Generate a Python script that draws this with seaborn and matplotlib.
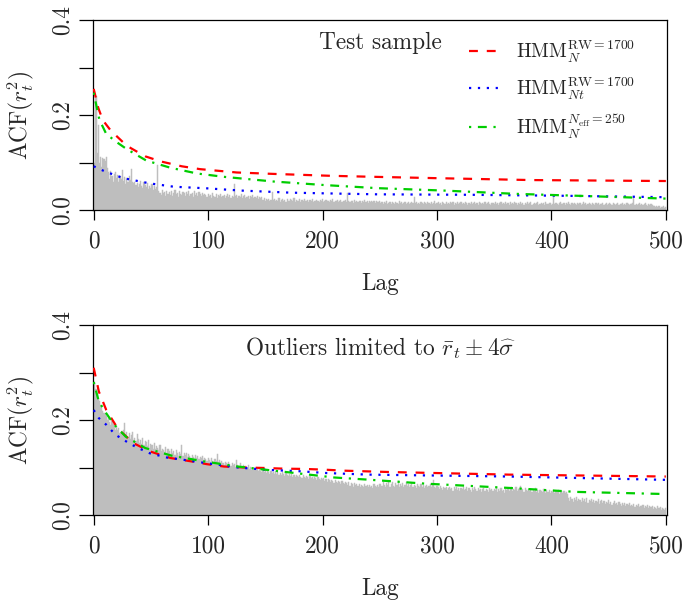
import numpy as np
import matplotlib
matplotlib.use("Agg")
import matplotlib.pyplot as plt
import seaborn as sns

sns.set_style("white")
plt.rcParams["font.family"] = ["cmr10", "DejaVu Serif"]
plt.rcParams["mathtext.fontset"] = "cm"
plt.rcParams["axes.unicode_minus"] = False
plt.rcParams["axes.formatter.use_mathtext"] = True

# ---------------- data ----------------
xtick_values = [0, 100, 200, 300, 400, 500]
xtick_labels = ["0", "100", "200", "300", "400", "500"]
ytick_values = [0.0, 0.1, 0.2, 0.3, 0.4]
ytick_labels = ["0.0", "", "0.2", "", "0.4"]

series_labels = [r"HMM$_N^{\mathrm{RW}=1700}$",
                 r"HMM$_{Nt}^{\mathrm{RW}=1700}$",
                 r"HMM$_N^{N_{\mathrm{eff}}=250}$"]
panel_titles = ["Test sample",
                r"Outliers limited to $\bar{r}_t \pm 4\widehat{\sigma}$"]

# sample ACF of squared returns, lags 1..500 (top panel: test sample)
acf_test = [
    0.100, 0.240, 0.120, 0.180, 0.100, 0.112, 0.090, 0.110, 0.108, 0.104, 0.112, 0.088,
    0.080, 0.066, 0.083, 0.071, 0.060, 0.076, 0.081, 0.068, 0.073, 0.058, 0.071, 0.066,
    0.084, 0.062, 0.070, 0.055, 0.068, 0.060, 0.072, 0.064, 0.086, 0.058, 0.056,
    0.060, 0.052, 0.057, 0.048, 0.055, 0.061, 0.050, 0.046, 0.058, 0.053, 0.049, 0.056,
    0.044, 0.051, 0.047, 0.054, 0.042, 0.050, 0.045, 0.048, 0.095,
    0.040, 0.036, 0.031, 0.042, 0.035, 0.038, 0.029, 0.041, 0.034, 0.037, 0.032, 0.039,
    0.030, 0.036, 0.042, 0.033, 0.035, 0.028, 0.040, 0.034, 0.031, 0.038, 0.035, 0.029,
    0.037, 0.033, 0.041, 0.030, 0.034, 0.036, 0.028, 0.039, 0.032, 0.035, 0.030, 0.037,
    0.033, 0.029, 0.036, 0.031, 0.034,
    0.031, 0.027, 0.034, 0.029, 0.032, 0.026, 0.035, 0.030, 0.028, 0.033, 0.025, 0.031,
    0.029, 0.034, 0.027, 0.030, 0.032, 0.026, 0.029, 0.033, 0.028, 0.031, 0.025, 0.030,
    0.028, 0.054,
    0.029, 0.032, 0.026, 0.030, 0.027, 0.033, 0.025, 0.029, 0.031, 0.026, 0.028, 0.030,
    0.024, 0.029, 0.027, 0.031, 0.025, 0.028, 0.026, 0.030, 0.023, 0.027, 0.025, 0.028,
    0.022, 0.025, 0.019, 0.023, 0.021, 0.024, 0.018, 0.022, 0.038,
    0.021, 0.024, 0.018, 0.022, 0.020, 0.025, 0.017, 0.021, 0.023, 0.019, 0.022, 0.016,
    0.024, 0.020, 0.018, 0.023, 0.021, 0.019, 0.025, 0.017, 0.022, 0.020, 0.018, 0.023,
    0.016, 0.021, 0.019, 0.024, 0.018, 0.020, 0.022, 0.017, 0.021, 0.019, 0.023, 0.016,
    0.020, 0.018, 0.022, 0.019, 0.017, 0.021, 0.020, 0.024, 0.016, 0.019, 0.022, 0.018,
    0.020, 0.017, 0.021, 0.019, 0.023, 0.016, 0.020, 0.018, 0.021, 0.017, 0.019, 0.022,
    0.016, 0.020, 0.018, 0.021, 0.017, 0.035,
    0.019, 0.016, 0.020, 0.018, 0.015, 0.021, 0.017, 0.019, 0.016, 0.020, 0.018, 0.015,
    0.019, 0.017, 0.021, 0.016, 0.018, 0.015, 0.020, 0.017, 0.019, 0.016, 0.018, 0.014,
    0.019, 0.017, 0.016, 0.018,
    0.015, 0.017, 0.013, 0.016, 0.014, 0.018, 0.012, 0.015, 0.016, 0.013,
    0.017, 0.014, 0.012, 0.016, 0.015, 0.013, 0.018, 0.014, 0.016, 0.012,
    0.015, 0.017, 0.013, 0.014, 0.016, 0.012, 0.015, 0.017, 0.014, 0.028,
    0.014, 0.016, 0.012, 0.015, 0.013, 0.017, 0.014, 0.012, 0.016, 0.015,
    0.013, 0.017, 0.014, 0.012, 0.016, 0.013, 0.015, 0.018, 0.012, 0.014,
    0.016, 0.013, 0.015, 0.011, 0.017, 0.014, 0.012, 0.016, 0.013, 0.015,
    0.012, 0.016, 0.014, 0.017, 0.011, 0.015, 0.013, 0.016, 0.012, 0.014,
    0.017, 0.013, 0.015, 0.012, 0.016, 0.014, 0.011, 0.015, 0.013, 0.016,
    0.012, 0.014, 0.017, 0.013, 0.015, 0.011, 0.016, 0.014, 0.012, 0.015,
    0.013, 0.016, 0.012, 0.014, 0.017, 0.013, 0.011, 0.015, 0.014, 0.012,
    0.016, 0.013, 0.015, 0.011, 0.014, 0.017, 0.012, 0.015, 0.013, 0.016,
    0.012, 0.014, 0.011, 0.016, 0.013, 0.015, 0.012, 0.017, 0.014, 0.011,
    0.015, 0.013, 0.016, 0.012, 0.014, 0.011, 0.015, 0.013, 0.017, 0.012,
    0.014, 0.016, 0.011, 0.013, 0.015, 0.012, 0.014, 0.016, 0.011, 0.013,
    0.015, 0.012, 0.014, 0.011, 0.016, 0.013, 0.012, 0.015, 0.014, 0.011,
    0.013, 0.028, 0.012, 0.015, 0.013, 0.011, 0.014, 0.016, 0.012, 0.013,
    0.015, 0.011, 0.014, 0.012, 0.016, 0.013, 0.010, 0.014, 0.012, 0.015,
    0.013, 0.011, 0.015, 0.012, 0.014, 0.010, 0.013, 0.016, 0.012, 0.014,
    0.011, 0.013, 0.015, 0.012, 0.010, 0.014, 0.013, 0.011, 0.015, 0.012,
    0.014, 0.010, 0.013, 0.012, 0.015, 0.011, 0.013, 0.014, 0.010, 0.012,
    0.015, 0.012, 0.011, 0.014, 0.013, 0.010, 0.012, 0.015, 0.011, 0.013,
    0.012, 0.014, 0.010, 0.013, 0.011, 0.015, 0.012, 0.010, 0.013, 0.012,
    0.014, 0.028, 0.011, 0.013, 0.010, 0.012, 0.014, 0.011, 0.013, 0.010,
    0.012, 0.014, 0.011, 0.009, 0.013, 0.010, 0.012, 0.011, 0.009, 0.008,
    0.007, 0.009, 0.006, 0.008, 0.005, 0.007, 0.006, 0.008, 0.005, 0.007,
]

# bottom panel: outliers limited
acf_limited = [
    0.280, 0.265, 0.255, 0.245, 0.240, 0.232, 0.228, 0.220, 0.215, 0.212,
    0.208, 0.200, 0.204, 0.195, 0.190, 0.198, 0.192, 0.185, 0.180, 0.188,
    0.178, 0.183, 0.172, 0.176, 0.168, 0.180, 0.194, 0.170, 0.174, 0.165,
    0.172, 0.160, 0.168, 0.175, 0.158, 0.163, 0.155, 0.170, 0.160, 0.152,
    0.158, 0.150, 0.162, 0.148, 0.155, 0.153, 0.145, 0.158, 0.142, 0.150,
    0.147, 0.140, 0.152, 0.138, 0.145, 0.142, 0.136, 0.148, 0.134, 0.140,
    0.137, 0.132, 0.143, 0.130, 0.138, 0.135, 0.128, 0.140, 0.131, 0.134,
    0.127, 0.136, 0.130, 0.125, 0.133, 0.129, 0.148, 0.124, 0.131, 0.126,
    0.130, 0.122, 0.128, 0.125, 0.120, 0.127, 0.123, 0.118, 0.126, 0.121,
    0.124, 0.117, 0.122, 0.119, 0.125, 0.115, 0.121, 0.118, 0.113, 0.120,
    0.116, 0.112, 0.119, 0.114, 0.110, 0.117, 0.113, 0.128, 0.111, 0.115,
    0.108, 0.114, 0.110, 0.106, 0.112, 0.109, 0.104, 0.111, 0.107, 0.103,
    0.110, 0.105, 0.108, 0.102, 0.116, 0.106, 0.101, 0.109, 0.104, 0.100,
    0.106, 0.099, 0.103, 0.098, 0.105, 0.097, 0.102, 0.095, 0.100, 0.096,
    0.099, 0.094, 0.097, 0.092, 0.098, 0.093, 0.090, 0.096, 0.091, 0.094,
    0.089, 0.095, 0.090, 0.087, 0.093, 0.088, 0.091, 0.086, 0.092, 0.087,
    0.090, 0.085, 0.089, 0.084, 0.091, 0.086, 0.083, 0.088, 0.085, 0.082,
    0.087, 0.083, 0.086, 0.081, 0.085, 0.080, 0.084, 0.082, 0.079, 0.085,
    0.081, 0.078, 0.084, 0.080, 0.077, 0.083, 0.079, 0.076, 0.082, 0.078,
    0.080, 0.075, 0.079, 0.077, 0.074, 0.081, 0.076, 0.073, 0.078, 0.075,
    0.077, 0.072, 0.076, 0.070, 0.075, 0.073, 0.069, 0.074, 0.071, 0.068,
    0.073, 0.070, 0.067, 0.072, 0.069, 0.066, 0.071, 0.068, 0.065, 0.070,
    0.067, 0.064, 0.069, 0.062, 0.068, 0.065, 0.060, 0.067, 0.063, 0.066,
    0.061, 0.065, 0.059, 0.064, 0.062, 0.058, 0.066, 0.061, 0.063, 0.059,
    0.064, 0.060, 0.062, 0.057, 0.065, 0.061, 0.058, 0.063, 0.060, 0.066,
    0.066, 0.061, 0.070, 0.063, 0.059, 0.068, 0.064, 0.072, 0.060, 0.065,
    0.069, 0.062, 0.058, 0.067, 0.063, 0.071, 0.060, 0.065, 0.062, 0.068,
    0.059, 0.064, 0.070, 0.061, 0.066, 0.058, 0.063, 0.067, 0.060, 0.064,
    0.062, 0.057, 0.066, 0.061, 0.059, 0.065, 0.060, 0.063, 0.056, 0.062,
    0.064, 0.059, 0.061, 0.066, 0.058, 0.063, 0.074, 0.060, 0.057, 0.062,
    0.059, 0.055, 0.061, 0.057, 0.053, 0.060, 0.056, 0.058, 0.052, 0.057,
    0.060, 0.054, 0.056, 0.051, 0.058, 0.055, 0.059, 0.053, 0.056, 0.050,
    0.057, 0.054, 0.059, 0.052, 0.055, 0.058, 0.051, 0.056, 0.053, 0.049,
    0.056, 0.052, 0.058, 0.054, 0.050, 0.057, 0.053, 0.055, 0.049, 0.054,
    0.057, 0.051, 0.055, 0.053, 0.048, 0.056, 0.052, 0.054, 0.050, 0.055,
    0.052, 0.058, 0.049, 0.054, 0.051, 0.056, 0.050, 0.053, 0.047, 0.055,
    0.052, 0.056, 0.050, 0.054, 0.058, 0.051, 0.055, 0.053, 0.059, 0.050,
    0.054, 0.057, 0.062, 0.052, 0.055, 0.049, 0.056, 0.053, 0.051, 0.055,
    0.050, 0.054, 0.048, 0.053, 0.051, 0.056, 0.049, 0.052, 0.047, 0.053,
    0.051, 0.048, 0.054, 0.050, 0.046, 0.052, 0.049, 0.053, 0.047, 0.051,
    0.049, 0.053, 0.046, 0.050, 0.048, 0.052, 0.045, 0.049, 0.051, 0.047,
    0.050, 0.046, 0.049, 0.045,
    0.036, 0.030, 0.038, 0.033, 0.028, 0.035, 0.031, 0.037, 0.029, 0.034,
    0.032, 0.027, 0.036, 0.030, 0.033, 0.028, 0.035, 0.026, 0.031, 0.029,
    0.034, 0.027, 0.032, 0.025, 0.030, 0.028, 0.033, 0.024, 0.029, 0.031,
    0.026, 0.030, 0.023, 0.028, 0.025, 0.031, 0.024, 0.027, 0.022, 0.026,
    0.029, 0.023, 0.025, 0.021, 0.027, 0.024, 0.020, 0.026, 0.022, 0.025,
    0.019, 0.023, 0.021, 0.025, 0.018, 0.022, 0.020, 0.024, 0.017, 0.021,
    0.019, 0.023, 0.016, 0.020, 0.018, 0.022, 0.015, 0.019, 0.017, 0.021,
    0.014, 0.018, 0.016, 0.020, 0.013, 0.017, 0.015, 0.012, 0.018, 0.014,
    0.016, 0.011, 0.015, 0.013, 0.010, 0.014,
]

# model-implied ACF curves (lag, value)
# top panel
top_rw_lag = [0, 1, 4, 8, 15, 29, 45, 59, 77, 93, 125, 157, 207, 242, 300, 383, 500]
top_rw_val = [0.255, 0.245, 0.215, 0.189, 0.167, 0.135, 0.113, 0.102, 0.092, 0.086,
              0.079, 0.076, 0.072, 0.070, 0.067, 0.063, 0.061]
top_rwt_lag = [0, 10, 26, 49, 70, 99, 128, 172, 216, 248, 330, 408, 500]
top_rwt_val = [0.092, 0.081, 0.067, 0.056, 0.049, 0.0456, 0.041, 0.0365, 0.0344,
               0.033, 0.032, 0.030, 0.027]
top_neff_lag = [0, 1, 5, 11, 20, 29, 46, 67, 90, 113, 157, 201, 248, 305, 369, 422, 500]
top_neff_val = [0.247, 0.235, 0.190, 0.160, 0.143, 0.128, 0.104, 0.089, 0.077, 0.070,
                0.060, 0.0526, 0.046, 0.041, 0.034, 0.030, 0.024]
# bottom panel
bot_rw_lag = [0, 4.5, 11, 19, 24, 35, 49, 67, 85, 99, 114, 132, 149, 167, 184, 202,
              219, 237, 258, 363, 500]
bot_rw_val = [0.31, 0.26, 0.221, 0.19, 0.175, 0.151, 0.134, 0.120, 0.113, 0.107, 0.102,
              0.100, 0.099, 0.0975, 0.097, 0.0954, 0.0933, 0.092, 0.0905, 0.085, 0.081]
bot_rwt_lag = [0, 4.5, 11, 19, 31, 38, 49, 64, 79, 99, 126, 152, 181, 202, 240, 363,
               451, 500]
bot_rwt_val = [0.221, 0.204, 0.19, 0.169, 0.151, 0.142, 0.130, 0.121, 0.116, 0.109,
               0.100, 0.095, 0.092, 0.0885, 0.085, 0.081, 0.0765, 0.074]
bot_neff_lag = [0, 4.5, 11, 18, 28, 45, 68, 96, 126, 155, 181, 210, 240, 290, 363,
                422, 495]
bot_neff_val = [0.28, 0.239, 0.214, 0.19, 0.165, 0.141, 0.125, 0.113, 0.102, 0.094,
                0.087, 0.079, 0.0744, 0.066, 0.057, 0.0486, 0.0444]

# ---------------- styles ----------------
colors = ["#FF0000", "#0000FF", "#00CD00"]
dash_styles = [(0, (4, 4)), (0, (1, 3)), (0, (1, 3, 4, 3))]
FS = 16.8
GRAY = "#BEBEBE"

fig = plt.figure(figsize=(6.85, 6.03), dpi=100)
ax_top = fig.add_axes([93 / 685, 1 - 210 / 603, 574 / 685, 190 / 603])
ax_bot = fig.add_axes([93 / 685, 1 - 515 / 603, 574 / 685, 190 / 603])

panels = [
    (ax_top, acf_test, [(top_rw_lag, top_rw_val), (top_rwt_lag, top_rwt_val),
                        (top_neff_lag, top_neff_val)]),
    (ax_bot, acf_limited, [(bot_rw_lag, bot_rw_val), (bot_rwt_lag, bot_rwt_val),
                           (bot_neff_lag, bot_neff_val)]),
]

for i, (ax, acf, curves) in enumerate(panels):
    lags = np.arange(1, len(acf) + 1)
    ax.bar(lags, acf, width=1.0, color=GRAY, edgecolor=GRAY, linewidth=0.35,
           zorder=1)
    for (lx, ly), c, ls, lab in zip(curves, colors, dash_styles, series_labels):
        sns.lineplot(x=lx, y=ly, ax=ax, color=c, linestyle=ls, linewidth=1.6,
                     estimator=None, label=lab if i == 0 else None, zorder=3)
    ax.set_xlim(-0.6, 501)
    ax.set_ylim(0, 0.4)
    ax.set_xticks(xtick_values)
    ax.set_xticklabels(xtick_labels, fontsize=FS)
    ax.set_yticks(ytick_values)
    ax.set_yticklabels(ytick_labels, fontsize=FS, rotation=90, va="center")
    ax.tick_params(axis="x", length=7.5, width=0.9, pad=7.5, color="black",
                   direction="out", bottom=True)
    ax.tick_params(axis="y", length=10, width=0.9, pad=4, color="black",
                   direction="out", left=True)
    for sp in ax.spines.values():
        sp.set_color("black")
        sp.set_linewidth(0.9)
        sp.set_visible(True)
    ax.set_xlabel("Lag", fontsize=FS)
    ax.xaxis.set_label_coords(0.5, -0.33)
    ax.set_ylabel(r"ACF$(r_t^2)$", fontsize=FS)
    ax.yaxis.set_label_coords(-0.10, 0.5)
    ax.text(0.5, 0.88, panel_titles[i], transform=ax.transAxes, ha="center",
            va="center", fontsize=FS)
    if i == 1 and ax.get_legend() is not None:
        ax.get_legend().remove()

leg = ax_top.legend(loc="upper left", bbox_to_anchor=(0.655, 0.90), frameon=False,
                    fontsize=14, handlelength=1.6, handletextpad=0.8, labelspacing=0.55,
                    borderpad=0, borderaxespad=0)

fig.savefig("out.png", dpi=100)
